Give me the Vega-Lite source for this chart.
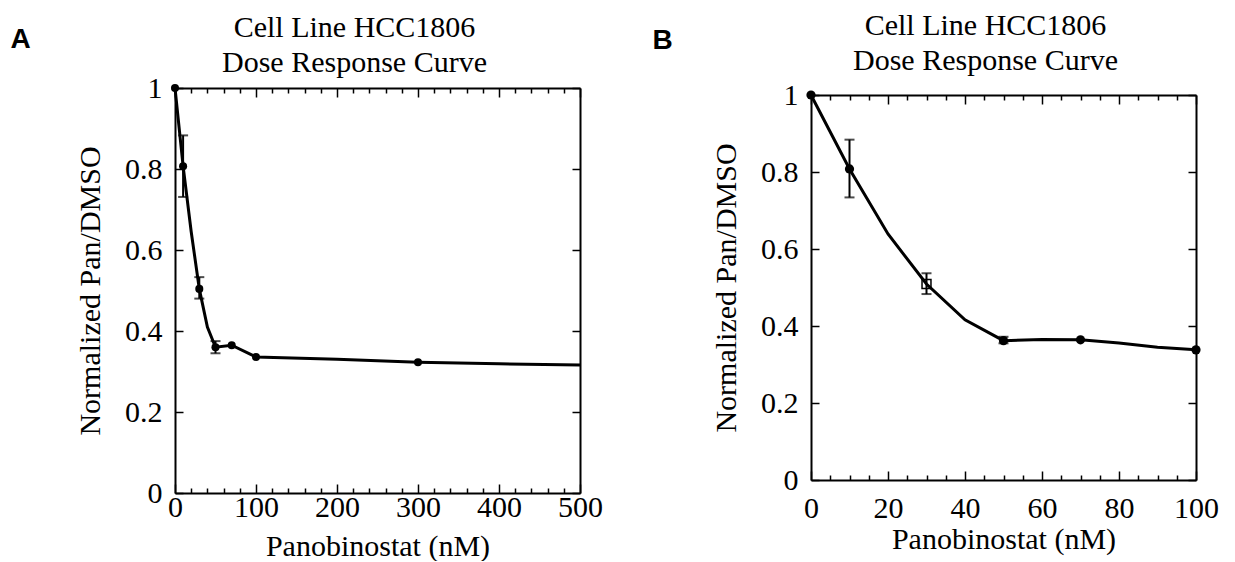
{
  "$schema": "https://vega.github.io/schema/vega-lite/v6.json",
  "padding": {"left": 10, "top": 11, "right": 5, "bottom": 0},
  "spacing": 49,
  "center": true,
  "background": "white",
  "datasets": {
    "curveA": [
      {"dose": 0, "resp": 1.0}, {"dose": 10, "resp": 0.807}, {"dose": 20, "resp": 0.645},
      {"dose": 30, "resp": 0.504}, {"dose": 40, "resp": 0.41}, {"dose": 50, "resp": 0.36},
      {"dose": 70, "resp": 0.365}, {"dose": 100, "resp": 0.336}, {"dose": 200, "resp": 0.33},
      {"dose": 300, "resp": 0.323}, {"dose": 400, "resp": 0.319}, {"dose": 500, "resp": 0.316}
    ],
    "ptsA": [
      {"dose": 0, "resp": 1.0}, {"dose": 10, "resp": 0.807}, {"dose": 30, "resp": 0.504},
      {"dose": 50, "resp": 0.36}, {"dose": 70, "resp": 0.365}, {"dose": 100, "resp": 0.336},
      {"dose": 300, "resp": 0.323}
    ],
    "errA": [
      {"dose": 10, "low": 0.731, "high": 0.883},
      {"dose": 30, "low": 0.48, "high": 0.533},
      {"dose": 50, "low": 0.345, "high": 0.375}
    ],
    "curveB": [
      {"dose": 0, "resp": 1.0}, {"dose": 10, "resp": 0.808}, {"dose": 20, "resp": 0.639},
      {"dose": 30, "resp": 0.509}, {"dose": 40, "resp": 0.416}, {"dose": 50, "resp": 0.362},
      {"dose": 60, "resp": 0.365}, {"dose": 70, "resp": 0.364}, {"dose": 80, "resp": 0.356},
      {"dose": 90, "resp": 0.345}, {"dose": 100, "resp": 0.338}
    ],
    "ptsB": [
      {"dose": 0, "resp": 1.0}, {"dose": 10, "resp": 0.808}, {"dose": 50, "resp": 0.362},
      {"dose": 70, "resp": 0.364}, {"dose": 100, "resp": 0.338}
    ],
    "openB": [
      {"dose": 30, "resp": 0.509}
    ],
    "errB": [
      {"dose": 10, "low": 0.734, "high": 0.884},
      {"dose": 30, "low": 0.483, "high": 0.537},
      {"dose": 50, "low": 0.355, "high": 0.372}
    ]
  },
  "hconcat": [
    {
      "title": {"text": "A", "anchor": "start", "frame": "bounds", "font": "Liberation Sans", "fontSize": 28, "fontWeight": "bold", "color": "black", "dx": -65, "dy": 63, "offset": 0, "baseline": "alphabetic"},
      "vconcat": [
        {
          "width": 405,
          "height": 405,
          "title": {"text": ["Cell Line HCC1806", "Dose Response Curve"], "font": "Liberation Serif", "fontSize": 30, "fontWeight": "normal", "lineHeight": 35, "anchor": "middle", "frame": "group", "dx": -23, "offset": -5, "color": "black"},
          "layer": [
            {
              "mark": {"type": "rule", "strokeDash": [20, 11.5], "strokeWidth": 2, "color": "black"},
              "encoding": {"y": {"datum": 0.5, "type": "quantitative", "scale": {"domain": [0, 1]}, "axis": null}}
            },
            {
              "data": {"name": "curveA"},
              "mark": {"type": "line", "color": "black", "strokeWidth": 3},
              "encoding": {
                "x": {"field": "dose", "type": "quantitative", "scale": {"domain": [0, 500], "nice": false},
                  "axis": {"orient": "bottom", "values": [0,20,40,60,80,100,120,140,160,180,200,220,240,260,280,300,320,340,360,380,400,420,440,460,480,500],
                    "labelExpr": "datum.value % 100 === 0 ? datum.label : ''",
                    "tickSize": {"condition": {"test": "datum.value % 100 === 0", "value": -9}, "value": -5},
                    "labelPadding": 8, "labelFlush": false, "labelOverlap": false, "labelBound": false,
                    "title": "Panobinostat (nM)", "titlePadding": 5}},
                "y": {"field": "resp", "type": "quantitative", "scale": {"domain": [0, 1], "nice": false},
                  "axis": {"orient": "left", "values": [0, 0.2, 0.4, 0.6, 0.8, 1], "format": "~g", "tickSize": -8,
                    "labelPadding": 21, "labelOverlap": false,
                    "title": "Normalized Pan/DMSO", "titlePadding": 19}}
              }
            },
            {
              "data": {"name": "errA"},
              "mark": {"type": "errorbar", "color": "black", "ticks": {"size": 10, "thickness": 2, "color": "black"}, "rule": {"strokeWidth": 2, "color": "black"}},
              "encoding": {
                "x": {"field": "dose", "type": "quantitative", "axis": null},
                "y": {"field": "low", "type": "quantitative", "axis": null, "title": null},
                "y2": {"field": "high"}
              }
            },
            {
              "data": {"name": "ptsA"},
              "mark": {"type": "point", "filled": true, "color": "black", "size": 65, "opacity": 1},
              "encoding": {
                "x": {"field": "dose", "type": "quantitative",
                  "axis": {"orient": "top", "values": [0,20,40,60,80,100,120,140,160,180,200,220,240,260,280,300,320,340,360,380,400,420,440,460,480,500],
                    "labels": false, "title": null,
                    "tickSize": {"condition": {"test": "datum.value % 100 === 0", "value": -9}, "value": -5}}},
                "y": {"field": "resp", "type": "quantitative",
                  "axis": {"orient": "right", "values": [0, 0.2, 0.4, 0.6, 0.8, 1], "labels": false, "title": null, "tickSize": -8}}
              }
            }
          ],
          "resolve": {"axis": {"x": "independent", "y": "independent"}}
        }
      ]
    },
    {
      "title": {"text": "B", "anchor": "start", "frame": "bounds", "font": "Liberation Sans", "fontSize": 28, "fontWeight": "bold", "color": "black", "dx": -59, "dy": 66, "offset": 0, "baseline": "alphabetic"},
      "vconcat": [
        {
          "width": 385,
          "height": 385,
          "title": {"text": ["Cell Line HCC1806", "Dose Response Curve"], "font": "Liberation Serif", "fontSize": 30, "fontWeight": "normal", "lineHeight": 35, "anchor": "middle", "frame": "group", "dx": -18, "offset": 4, "color": "black"},
          "layer": [
            {
              "mark": {"type": "rule", "strokeDash": [20, 11.5], "strokeWidth": 2, "color": "black"},
              "encoding": {"y": {"datum": 0.51, "type": "quantitative", "scale": {"domain": [0, 1]}, "axis": null}}
            },
            {
              "data": {"name": "curveB"},
              "mark": {"type": "line", "color": "black", "strokeWidth": 3},
              "encoding": {
                "x": {"field": "dose", "type": "quantitative", "scale": {"domain": [0, 100], "nice": false},
                  "axis": {"orient": "bottom", "values": [0,5,10,15,20,25,30,35,40,45,50,55,60,65,70,75,80,85,90,95,100],
                    "labelExpr": "datum.value % 20 === 0 ? datum.label : ''",
                    "tickSize": {"condition": {"test": "datum.value % 20 === 0", "value": -9}, "value": -5},
                    "labelPadding": 22, "labelFlush": false, "labelOverlap": false, "labelBound": false,
                    "title": "Panobinostat (nM)", "titlePadding": -3}},
                "y": {"field": "resp", "type": "quantitative", "scale": {"domain": [0, 1], "nice": false},
                  "axis": {"orient": "left", "values": [0, 0.2, 0.4, 0.6, 0.8, 1], "format": "~g", "tickSize": -8,
                    "labelPadding": 21, "labelOverlap": false,
                    "title": "Normalized Pan/DMSO", "titlePadding": 19}}
              }
            },
            {
              "data": {"name": "errB"},
              "mark": {"type": "errorbar", "color": "black", "ticks": {"size": 10, "thickness": 2, "color": "black"}, "rule": {"strokeWidth": 2, "color": "black"}},
              "encoding": {
                "x": {"field": "dose", "type": "quantitative", "axis": null},
                "y": {"field": "low", "type": "quantitative", "axis": null, "title": null},
                "y2": {"field": "high"}
              }
            },
            {
              "data": {"name": "openB"},
              "mark": {"type": "point", "shape": "square", "filled": false, "color": "black", "size": 80, "strokeWidth": 1.5, "opacity": 1},
              "encoding": {
                "x": {"field": "dose", "type": "quantitative", "axis": null},
                "y": {"field": "resp", "type": "quantitative", "axis": null}
              }
            },
            {
              "data": {"name": "ptsB"},
              "mark": {"type": "point", "filled": true, "color": "black", "size": 85, "opacity": 1},
              "encoding": {
                "x": {"field": "dose", "type": "quantitative",
                  "axis": {"orient": "top", "values": [0,5,10,15,20,25,30,35,40,45,50,55,60,65,70,75,80,85,90,95,100],
                    "labels": false, "title": null,
                    "tickSize": {"condition": {"test": "datum.value % 20 === 0", "value": -9}, "value": -5}}},
                "y": {"field": "resp", "type": "quantitative",
                  "axis": {"orient": "right", "values": [0, 0.2, 0.4, 0.6, 0.8, 1], "labels": false, "title": null, "tickSize": -8}}
              }
            }
          ],
          "resolve": {"axis": {"x": "independent", "y": "independent"}}
        }
      ]
    }
  ],
  "config": {
    "font": "Liberation Serif",
    "view": {"stroke": null},
    "axis": {
      "domainColor": "black", "domainWidth": 2, "tickColor": "black", "tickWidth": 1.5,
      "labelFont": "Liberation Serif", "labelFontSize": 30, "labelColor": "black",
      "titleFont": "Liberation Serif", "titleFontSize": 30, "titleFontWeight": "normal", "titleColor": "black",
      "grid": false
    }
  }
}
